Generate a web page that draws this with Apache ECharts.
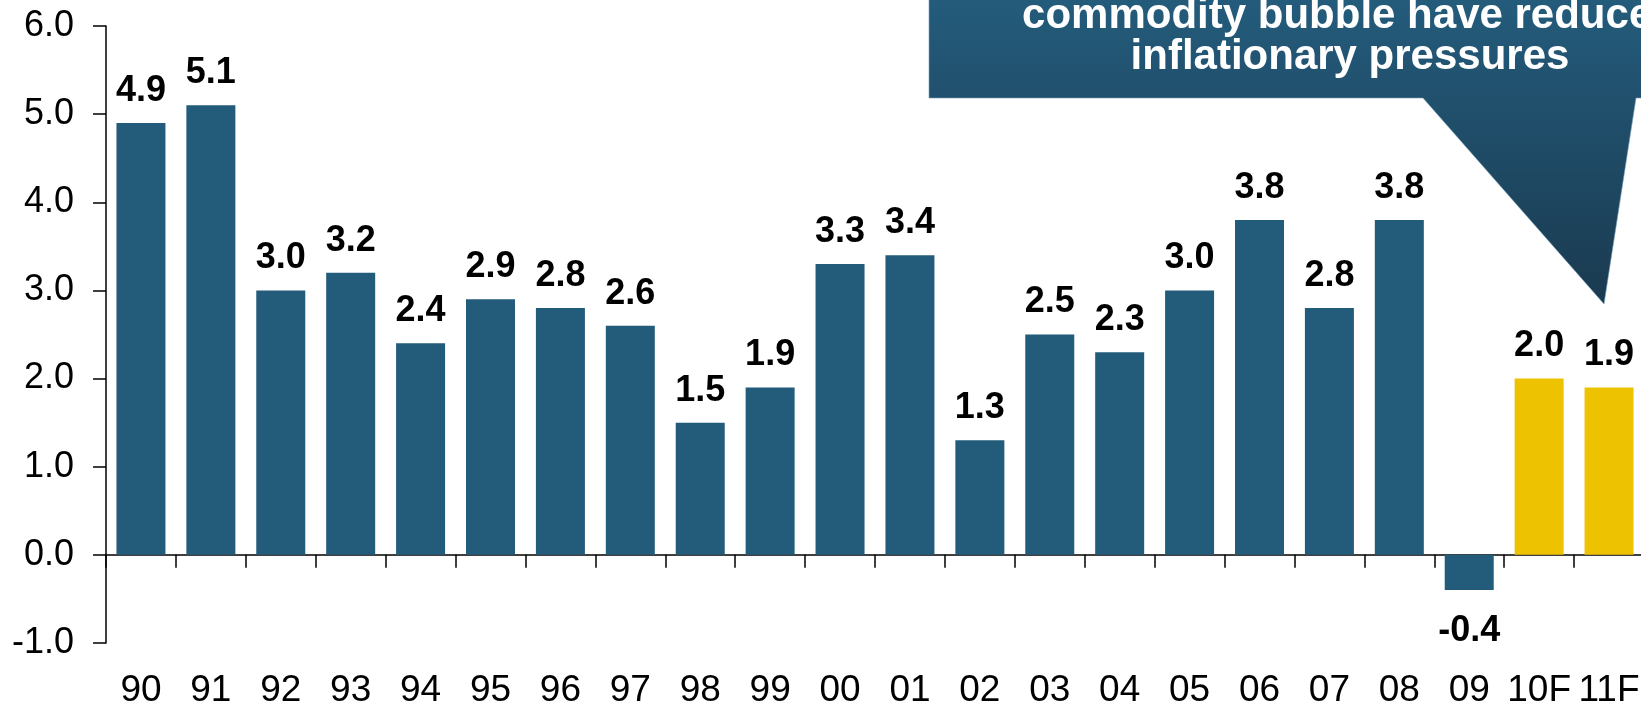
<!DOCTYPE html>
<html>
<head>
<meta charset="utf-8">
<script src="https://cdn.jsdelivr.net/npm/echarts@6/dist/echarts.min.js"></script>
<style>
  html, body { margin: 0; padding: 0; background: #fff; }
  #main { width: 1641px; height: 702px; }
</style>
</head>
<body>
<div id="main"></div>
<script>
const years = ['90', '91', '92', '93', '94', '95', '96', '97', '98', '99', '00', '01', '02', '03', '04', '05', '06', '07', '08', '09', '10F', '11F']
const inflation = [4.9, 5.1, 3.0, 3.2, 2.4, 2.9, 2.8, 2.6, 1.5, 1.9, 3.3, 3.4, 1.3, 2.5, 2.3, 3.0, 3.8, 2.8, 3.8, -0.4, 2.0, 1.9]
const calloutLines = ['commodity bubble have reduced', 'inflationary pressures']

const blue = '#235b7a'
const yellow = '#edc200'
const font = "'Liberation Sans', Arial, sans-serif"

const chart = echarts.init(document.getElementById('main'))

const barData = inflation.map((v, i) => ({
  value: v,
  itemStyle: { color: years[i].endsWith('F') ? yellow : blue },
  label: v < 0 ? { position: 'bottom', distance: 23 } : undefined,
}))

const option = {
  animation: false,
  grid: { left: 106, right: -3, top: 26, bottom: 59, containLabel: false, outerBoundsMode: 'none' },
  xAxis: [
    {
      // axis line and ticks sitting on zero
      type: 'category',
      data: years,
      axisLine: { onZero: true, lineStyle: { color: '#000', width: 1.5 } },
      axisTick: { show: true, length: 13, lineStyle: { color: '#000', width: 1.5 } },
      axisLabel: { show: false },
    },
    {
      // year labels along the bottom
      type: 'category',
      data: years,
      position: 'bottom',
      axisLine: { show: false, onZero: false },
      axisTick: { show: false },
      axisLabel: {
        margin: 29,
        color: '#000',
        fontFamily: font,
        fontSize: 37,
        interval: 0,
      },
    },
  ],
  yAxis: {
    type: 'value',
    min: -1,
    max: 6,
    interval: 1,
    splitLine: { show: false },
    axisLine: { show: true, lineStyle: { color: '#000', width: 1.5 } },
    axisTick: { show: true, length: 13, lineStyle: { color: '#000', width: 1.5 } },
    axisLabel: {
      margin: 32,
      color: '#000',
      fontFamily: font,
      fontSize: 36,
      formatter: (v) => v.toFixed(1),
    },
  },
  series: [
    {
      type: 'bar',
      xAxisIndex: 0,
      data: barData,
      barWidth: 49,
      label: {
        show: true,
        position: 'top',
        distance: 14,
        color: '#000',
        fontFamily: font,
        fontWeight: 'bold',
        fontSize: 36,
        formatter: (p) => p.value.toFixed(1),
      },
    },
  ],
  graphic: [
    {
      type: 'polygon',
      z: 100,
      shape: {
        points: [[929, -5], [1650, -5], [1650, 98], [1636, 98], [1604, 304], [1423, 98], [929, 98]],
      },
      style: {
        fill: new echarts.graphic.LinearGradient(0, 0, 0, 1, [
          { offset: 0, color: '#245c7c' },
          { offset: 1, color: '#1a3a50' },
        ]),
        stroke: 'rgba(120,160,185,0.6)',
        lineWidth: 1,
      },
    },
    {
      type: 'text',
      z: 101,
      x: 1350,
      y: 37,
      style: {
        text: calloutLines[0],
        fill: '#fff',
        font: 'bold 42px ' + font,
        textAlign: 'center',
        textVerticalAlign: 'bottom',
      },
    },
    {
      type: 'text',
      z: 101,
      x: 1350,
      y: 78,
      style: {
        text: calloutLines[1],
        fill: '#fff',
        font: 'bold 42px ' + font,
        textAlign: 'center',
        textVerticalAlign: 'bottom',
      },
    },
  ],
}

chart.setOption(option)
</script>
</body>
</html>
